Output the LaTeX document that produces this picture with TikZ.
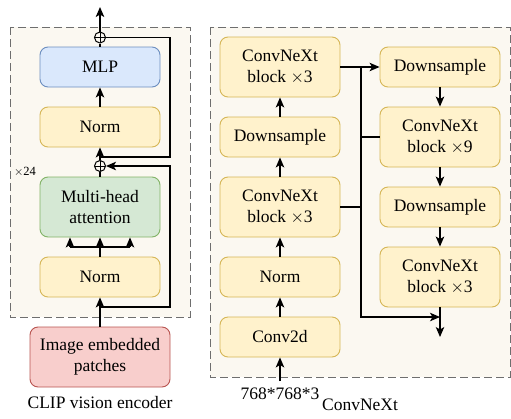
\documentclass[tikz,border=0pt]{standalone}
\usepackage{fontspec}
\setmainfont{Liberation Serif}
\usetikzlibrary{arrows.meta}
\definecolor{ofill}{HTML}{FFF2CC}\definecolor{ostroke}{HTML}{D6B656}
\definecolor{bfill}{HTML}{DAE8FC}\definecolor{bstroke}{HTML}{6C8EBF}
\definecolor{gfill}{HTML}{D5E8D4}\definecolor{gstroke}{HTML}{82B366}
\definecolor{rfill}{HTML}{F8CECC}\definecolor{rstroke}{HTML}{B85450}
\definecolor{cfill}{HTML}{FBF8F1}\definecolor{cstroke}{HTML}{6E6E6E}
\tikzset{
  blk/.style={draw=ostroke,fill=ofill,rounded corners=8pt,line width=0.9pt,
    minimum width=120pt,minimum height=40pt,inner sep=0pt,align=center,
    font=\fontsize{17.5}{21.5}\selectfont},
  tall/.style={minimum height=60pt},
  cont/.style={draw=cstroke,fill=cfill,line width=0.9pt,dash pattern=on 8pt off 4pt},
  con/.style={line width=1.2pt,black},
  arr/.style={con,-{Stealth[length=10pt,width=8.5pt,inset=2.5pt]}},
  plus/.style={circle,draw,line width=1pt,minimum size=11pt,inner sep=0pt,
    path picture={\draw[line width=1pt] (path picture bounding box.north)--(path picture bounding box.south)
      (path picture bounding box.west)--(path picture bounding box.east);}},
  lbl/.style={font=\fontsize{17.5}{21.5}\selectfont,inner sep=0pt}
}
\begin{document}
\begin{tikzpicture}[x=1pt,y=-1pt]
\useasboundingbox (0,0) rectangle (511,418);
% containers
\path[cont] (10,27) rectangle (190,317);
\path[cont] (210,27) rectangle (510,377);
% left column
\node[plus] (plusA) at (100,37.5) {};
\node[blk,draw=bstroke,fill=bfill] (mlp) at (100,67) {MLP};
\node[blk] (normA) at (100,127) {Norm};
\node[plus] (plusB) at (100,166) {};
\node[blk,tall,draw=gstroke,fill=gfill] (attn) at (100,207) {Multi-head\\attention};
\node[blk] (normB) at (100,277) {Norm};
\node[blk,draw=rstroke,fill=rfill,minimum width=140pt,minimum height=60pt] (img) at (100,357) {Image embedded\\patches};
\node[lbl] (cap1) at (100,403) {CLIP vision encoder};
\node[font=\fontsize{12.5}{14}\selectfont,inner sep=0pt] (rep) at (25,172) {$\times$24};
\coordinate (top) at (100,7);
\coordinate (jB) at (100,307);
\coordinate (jA) at (100,157);
\coordinate (jT) at (100,247);
\coordinate (tl) at (70,247);
\coordinate (tr) at (130,247);
\draw[arr] (img.north) -- (normB.south);
\draw[arr] (jB) -- (170,307) -- (170,166) -- (plusB.east);
\draw[arr] (normB.north) -- (attn.south);
\draw[con] (tl) -- (tr);
\draw[arr] (tl) -- (tl |- attn.south);
\draw[arr] (tr) -- (tr |- attn.south);
\draw[con] (attn.north) -- (plusB.south);
\draw[arr] (plusB.north) -- (normA.south);
\draw[con] (jA) -- (170,157) -- (170,37.5) -- (plusA.east);
\draw[arr] (normA.north) -- (mlp.south);
\draw[con] (mlp.north) -- (plusA.south);
\draw[arr] (plusA.north) -- (top);
% right container, left column
\node[blk,tall] (cA) at (280,67) {ConvNeXt\\block $\times$3};
\node[blk] (dsL) at (280,137) {Downsample};
\node[blk,tall] (cB) at (280,207) {ConvNeXt\\block $\times$3};
\node[blk] (normC) at (280,277) {Norm};
\node[blk] (conv) at (280,337) {Conv2d};
\node[lbl] (inp) at (280,394) {768*768*3};
\node[lbl] (cap2) at (360,405) {ConvNeXt};
\coordinate (inpt) at (280,381);
\draw[arr] (inpt) -- (conv.south);
\draw[arr] (conv.north) -- (normC.south);
\draw[arr] (normC.north) -- (cB.south);
\draw[arr] (cB.north) -- (dsL.south);
\draw[arr] (dsL.north) -- (cA.south);
% right column
\node[blk] (dsR) at (440,67) {Downsample};
\node[blk,tall] (c9) at (440,137) {ConvNeXt\\block $\times$9};
\node[blk] (dsR2) at (440,207) {Downsample};
\node[blk,tall] (c3) at (440,277) {ConvNeXt\\block $\times$3};
\coordinate (outp) at (440,337);
\coordinate (bus) at (361,317);
\draw[arr] (dsR.south) -- (c9.north);
\draw[arr] (c9.south) -- (dsR2.north);
\draw[arr] (dsR2.south) -- (c3.north);
\draw[arr] (c3.south) -- (outp);
\draw[arr] (cA.east) -- (dsR.west);
\draw[arr] (361,67) -- (bus) -- (bus -| c3.south);
\draw[con] (c9.west) -- (361,137);
\draw[con] (cB.east) -- (361,207);
\end{tikzpicture}
\end{document}
